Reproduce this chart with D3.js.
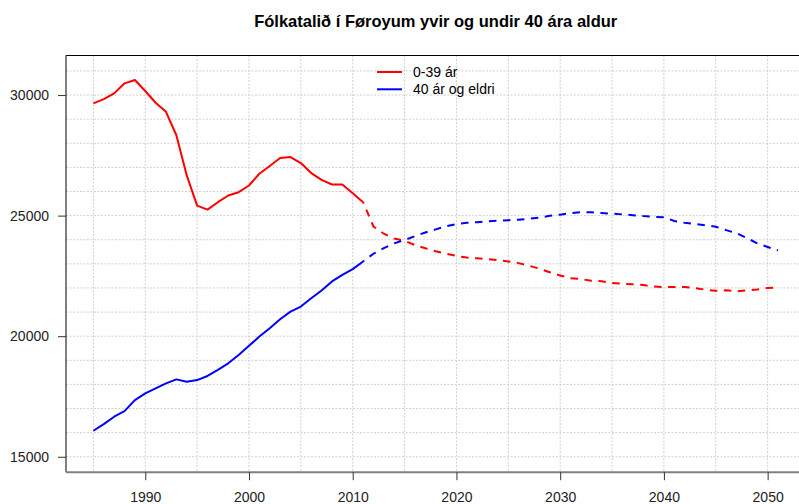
<!DOCTYPE html>
<html><head><meta charset="utf-8">
<script src="https://cdn.jsdelivr.net/npm/d3@7"></script>
<style>html,body{margin:0;padding:0;background:#fff;}svg{display:block;font-family:"Liberation Sans",Arial,sans-serif;}</style>
</head><body>
<script>
const title = "Fólkatalið í Føroyum yvir og undir 40 ára aldur";
const seriesNames = ["0-39 ár", "40 ár og eldri"];
const seriesColors = ["#ff0000", "#0000ff"];

const histYears = d3.range(1985, 2012);
const histYoung = [29653,29833,30070,30486,30625,30167,29680,29306,28333,26667,25417,25250,25556,25833,25972,26250,26736,27056,27389,27430,27180,26764,26486,26290,26290,25930,25556];
const histOld = [16078,16355,16660,16895,17350,17630,17840,18045,18210,18115,18180,18350,18600,18875,19220,19600,19985,20330,20700,21020,21230,21575,21895,22270,22545,22780,23100];

const projYears = d3.range(2011, 2052);
const projYoung = [25556,24550,24250,24050,23960,23780,23650,23520,23420,23330,23260,23230,23200,23150,23100,23030,22920,22800,22650,22520,22400,22370,22300,22280,22210,22180,22150,22120,22060,22040,22040,22040,21990,21930,21880,21900,21860,21900,21940,22000,22010];
const projOld = [23100,23420,23650,23850,23990,24150,24300,24430,24560,24650,24700,24730,24760,24790,24810,24830,24870,24920,24990,25040,25100,25140,25140,25110,25080,25050,25020,24980,24950,24930,24780,24700,24650,24600,24540,24400,24270,24070,23850,23700,23560];

const xTicks = [1990,2000,2010,2020,2030,2040,2050];
const yTicks = [15000,20000,25000,30000];
const xGrid = d3.range(1985, 2055, 5);
const yGrid = d3.range(15000, 32000, 1000);

const W = 799, H = 504;
const L = 66, R = 805.4, T = 55.5, B = 472.2;

const svg = d3.select("body").append("svg").attr("width", W).attr("height", H);

const x = d3.scaleLinear().domain([1982.36, 2053.64]).range([L, R]);
const y = d3.scaleLinear().domain([14360, 31640]).range([B, T]);

// grid
const g = svg.append("g");
g.selectAll(".vg").data(xGrid).join("line")
  .attr("x1", d => x(d)).attr("x2", d => x(d)).attr("y1", T).attr("y2", B)
  .attr("stroke", "#d0d0d0").attr("stroke-width", 1).attr("stroke-dasharray", "2,1.5");
g.selectAll(".hg").data(yGrid).join("line")
  .attr("x1", L).attr("x2", R).attr("y1", d => y(d)).attr("y2", d => y(d))
  .attr("stroke", "#d0d0d0").attr("stroke-width", 1).attr("stroke-dasharray", "2,1.5");

// frame
svg.append("line").attr("x1", L).attr("x2", R).attr("y1", T).attr("y2", T).attr("stroke", "#000").attr("stroke-width", 1);
svg.append("line").attr("x1", L).attr("x2", L).attr("y1", T).attr("y2", B).attr("stroke", "#000").attr("stroke-width", 1);
svg.append("line").attr("x1", L).attr("x2", R).attr("y1", B).attr("y2", B).attr("stroke", "#808080").attr("stroke-width", 2);

// y axis
const yAxis = d3.axisLeft(y).tickValues(yTicks).tickSize(8).tickPadding(9).tickFormat(d3.format("d"));
const ya = svg.append("g").attr("transform", `translate(${L},0)`).call(yAxis);
ya.select(".domain").remove();
ya.selectAll("line").attr("stroke", "#333");
ya.selectAll("text").attr("font-size", 14).attr("fill", "#222").attr("font-family", "Liberation Sans, Arial, sans-serif");

// x axis
const xAxis = d3.axisBottom(x).tickValues(xTicks).tickSize(8).tickPadding(12).tickFormat(d3.format("d"));
const xa = svg.append("g").attr("transform", `translate(0,${B})`).call(xAxis);
xa.select(".domain").remove();
xa.selectAll("line").attr("stroke", "#333");
xa.selectAll("text").attr("font-size", 14).attr("fill", "#222").attr("font-family", "Liberation Sans, Arial, sans-serif");

// lines
const line = d3.line().x(d => x(d[0])).y(d => y(d[1]));
const series = [
  {hist: histYoung, proj: projYoung, color: seriesColors[0]},
  {hist: histOld, proj: projOld, color: seriesColors[1]}
];
series.forEach(s => {
  svg.append("path").datum(histYears.map((yr, i) => [yr, s.hist[i]]))
    .attr("d", line).attr("fill", "none").attr("stroke", s.color).attr("stroke-width", 2).attr("stroke-linejoin", "round");
  svg.append("path").datum(projYears.map((yr, i) => [yr, s.proj[i]]))
    .attr("d", line).attr("fill", "none").attr("stroke", s.color).attr("stroke-width", 2)
    .attr("stroke-dasharray", "7.5,6.5").attr("stroke-dashoffset", -8);
});

// title
svg.append("text").attr("x", (L + R) / 2).attr("y", 27).attr("text-anchor", "middle")
  .attr("font-size", 16.5).attr("font-weight", "bold").attr("fill", "#000").text(title);

// legend
const lg = svg.append("g");
seriesNames.forEach((n, i) => {
  const yy = 72 + i * 17.3;
  lg.append("line").attr("x1", 377).attr("x2", 402).attr("y1", yy).attr("y2", yy)
    .attr("stroke", seriesColors[i]).attr("stroke-width", 2);
  lg.append("text").attr("x", 413).attr("y", yy + 5).attr("font-size", 14).attr("fill", "#000").text(n);
});
</script>
</body></html>
